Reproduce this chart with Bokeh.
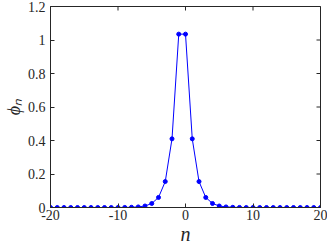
import math
from bokeh.plotting import figure
from bokeh.models import Range1d, FixedTicker, CustomJSTickFormatter
from bokeh.embed import file_html
from bokeh.resources import INLINE

n = list(range(-20, 21))
phi = [0.0, 0.0, 0.0, 0.0, 0.0, 0.0, 0.0, 0.0, 0.0, 0.0,
       0.0, 0.0005, 0.0013, 0.0035, 0.009, 0.024, 0.06, 0.155, 0.41, 1.035,
       1.035,
       0.41, 0.155, 0.06, 0.024, 0.009, 0.0035, 0.0013, 0.0005, 0.0, 0.0,
       0.0, 0.0, 0.0, 0.0, 0.0, 0.0, 0.0, 0.0, 0.0, 0.0]

x_ticks = [-20, -10, 0, 10, 20]
y_ticks = [0, 0.2, 0.4, 0.6, 0.8, 1.0, 1.2]
x_label = "n"
y_label = "ϕₙ"

FONT = "Liberation Serif"
AX = "#262626"

p = figure(width=327, height=247, output_backend="svg", toolbar_location=None,
           x_range=Range1d(x_ticks[0], x_ticks[-1]), y_range=Range1d(y_ticks[0], y_ticks[-1]),
           min_border_left=47, min_border_right=7, min_border_top=6, min_border_bottom=40)
p.xgrid.visible = False
p.ygrid.visible = False
p.outline_line_color = AX
p.outline_line_width = 1

p.line(n, phi, line_color="#0000ff", line_width=1)
p.scatter(n, phi, size=4, fill_color="#0000ff", line_color="#0000ff")

# inward ticks on the top and right edges of the box
p.scatter(x_ticks, [y_ticks[-1]] * len(x_ticks), marker="dash", angle=math.pi / 2,
          size=8, line_color=AX, line_width=1)
p.scatter([x_ticks[-1]] * len(y_ticks), y_ticks, marker="dash",
          size=8, line_color=AX, line_width=1)

fmt = CustomJSTickFormatter(code="return (Math.round(tick*10)/10).toString();")

def style(ax):
    ax.axis_line_color = AX
    ax.major_tick_line_color = AX
    ax.minor_tick_line_color = None
    ax.major_tick_in = 4
    ax.major_tick_out = 0
    ax.major_label_text_font = FONT
    ax.major_label_text_font_size = "14px"
    ax.major_label_text_color = "#262626"

xa = p.xaxis[0]
xa.ticker = FixedTicker(ticks=x_ticks)
xa.formatter = fmt
style(xa)
xa.major_label_standoff = 2
xa.axis_label = x_label
xa.axis_label_text_font = FONT
xa.axis_label_text_font_style = "italic"
xa.axis_label_text_font_size = "20px"
xa.axis_label_standoff = 0
xa.axis_label_text_color = "#262626"

ya = p.yaxis[0]
ya.ticker = FixedTicker(ticks=y_ticks)
ya.formatter = fmt
style(ya)
ya.major_label_standoff = 5
ya.axis_label = y_label
ya.axis_label_text_font = FONT
ya.axis_label_text_font_style = "italic"
ya.axis_label_text_font_size = "18px"
ya.axis_label_standoff = 1
ya.axis_label_text_color = "#262626"

open("out.html", "w").write(file_html(p, INLINE))
